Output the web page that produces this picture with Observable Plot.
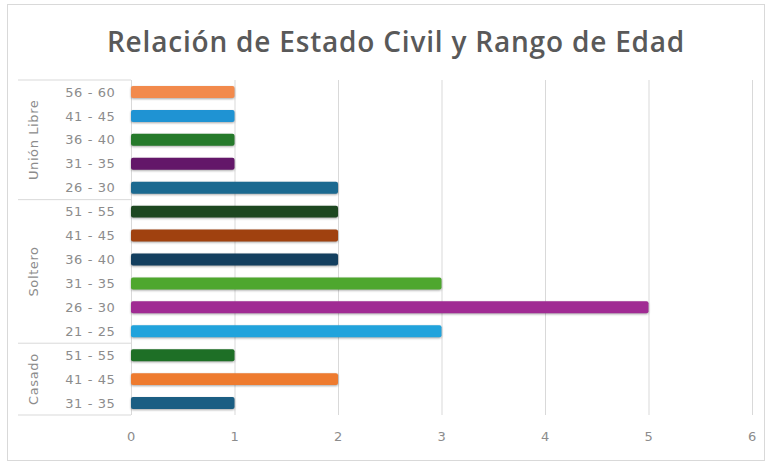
<!DOCTYPE html>
<html>
<head>
<meta charset="utf-8">
<script src="https://cdn.jsdelivr.net/npm/d3@7"></script>
<script src="https://cdn.jsdelivr.net/npm/@observablehq/plot@0.6"></script>
<style>
  html, body { margin: 0; padding: 0; background: #fff; }
  #page { position: relative; width: 773px; height: 465px; overflow: hidden; background: #fff; }
  #frame { position: absolute; left: 7px; top: 4px; width: 758px; height: 457px; border: 1px solid #d9d9d9; box-sizing: border-box; }
  #title { position: absolute; left: 18px; top: 22px; width: 756px; text-align: center;
           font-family: "Open Sans", sans-serif; font-weight: 600; font-size: 28px; letter-spacing: 0.8px;
           color: #595959; white-space: nowrap; }
  #chart { position: absolute; left: 0; top: 0; }
</style>
</head>
<body>
<div id="page">
  <div id="frame"></div>
  <div id="title">Relación de Estado Civil y Rango de Edad</div>
  <div id="chart"></div>
</div>
<script>
// Groups (top to bottom)
const groups = ["Unión Libre", "Soltero", "Casado"];

// Unión Libre
const unionAges = ["56 - 60", "41 - 45", "36 - 40", "31 - 35", "26 - 30"];
const unionValues = [1, 1, 1, 1, 2];
const unionColors = ["#f28a4c", "#1f93d3", "#267a2b", "#631769", "#1b6990"];

// Soltero
const solteroAges = ["51 - 55", "41 - 45", "36 - 40", "31 - 35", "26 - 30", "21 - 25"];
const solteroValues = [2, 2, 2, 3, 5, 3];
const solteroColors = ["#1d4720", "#a0410f", "#133f5f", "#4ea72e", "#a02b93", "#21a3dc"];

// Casado
const casadoAges = ["51 - 55", "41 - 45", "31 - 35"];
const casadoValues = [1, 2, 1];
const casadoColors = ["#1e6f26", "#ee7b2f", "#1b5e83"];

const xTicks = [0, 1, 2, 3, 4, 5, 6];

const groupData = [
  {group: groups[0], ages: unionAges, values: unionValues, colors: unionColors},
  {group: groups[1], ages: solteroAges, values: solteroValues, colors: solteroColors},
  {group: groups[2], ages: casadoAges, values: casadoValues, colors: casadoColors}
];

const rows = groupData.flatMap(g => g.ages.map((a, i) => ({
  key: g.group + "|" + a, group: g.group, age: a, value: g.values[i], color: g.colors[i]
})));

const yDomain = rows.map(d => d.key);

const grey = "#8c8c8c";
const gridColor = "#d9d9d9";
const fontStack = "'DejaVu Sans', sans-serif";

const plot = Plot.plot({
  width: 773,
  height: 465,
  marginLeft: 131,
  marginRight: 21,
  marginTop: 80,
  marginBottom: 50,
  style: {fontFamily: fontStack, fontSize: "13px", color: grey, background: "transparent", letterSpacing: "0.6px"},
  x: {domain: [0, 6], ticks: xTicks, tickSize: 0, tickPadding: 16, label: null, tickFormat: "d"},
  y: {domain: yDomain, paddingInner: 0.5, paddingOuter: 0.25, round: false, tickSize: 0, tickPadding: 16,
      tickFormat: d => d.split("|")[1], label: null},
  marks: [
    Plot.gridX(xTicks.filter(d => d > 0), {stroke: gridColor, strokeOpacity: 1, strokeWidth: 1}),
    Plot.ruleX([0], {stroke: gridColor, strokeWidth: 1}),
    Plot.barX(rows, {x: "value", y: "key", fill: "color", rx: 2, className: "bars"}),
    Plot.axisX({ticks: xTicks, tickFormat: "d", tickSize: 0, tickPadding: 16, fill: grey, fontSize: 13}),
    Plot.axisY({tickSize: 0, tickPadding: 16, tickFormat: d => d.split("|")[1], fill: grey, fontSize: 13})
  ]
});

document.getElementById("chart").appendChild(plot);

// Bar shadow similar to the spreadsheet style
d3.select(plot).selectAll("g.bars, g[aria-label='bar']").style("filter", "drop-shadow(0px 1.5px 1px rgba(0,0,0,0.35))");

// Group separators and rotated group labels, positioned with Plot's own y scale
const ys = plot.scale("y");
const gap = (ys.step - ys.bandwidth) / 2;
const svg = d3.select(plot);
const gLayer = svg.append("g").attr("class", "groups");
const xs = plot.scale("x");
const axisX = xs.apply(0);
const leftX = 18;

groupData.forEach((g, gi) => {
  const first = ys.apply(g.group + "|" + g.ages[0]);
  const last = ys.apply(g.group + "|" + g.ages[g.ages.length - 1]) + ys.bandwidth;
  const top = first - gap;
  const bottom = last + gap;
  if (gi === 0) {
    gLayer.append("line").attr("x1", leftX).attr("x2", axisX).attr("y1", top).attr("y2", top)
      .attr("stroke", gridColor);
  }
  gLayer.append("line").attr("x1", leftX).attr("x2", axisX).attr("y1", bottom).attr("y2", bottom)
    .attr("stroke", gridColor);
  const cy = (first + last) / 2;
  gLayer.append("text")
    .attr("transform", `translate(38,${cy}) rotate(-90)`)
    .attr("text-anchor", "middle")
    .attr("fill", grey)
    .attr("font-size", 13)
    .attr("letter-spacing", "0.6px")
    .attr("font-family", fontStack)
    .text(g.group);
});
</script>
</body>
</html>
